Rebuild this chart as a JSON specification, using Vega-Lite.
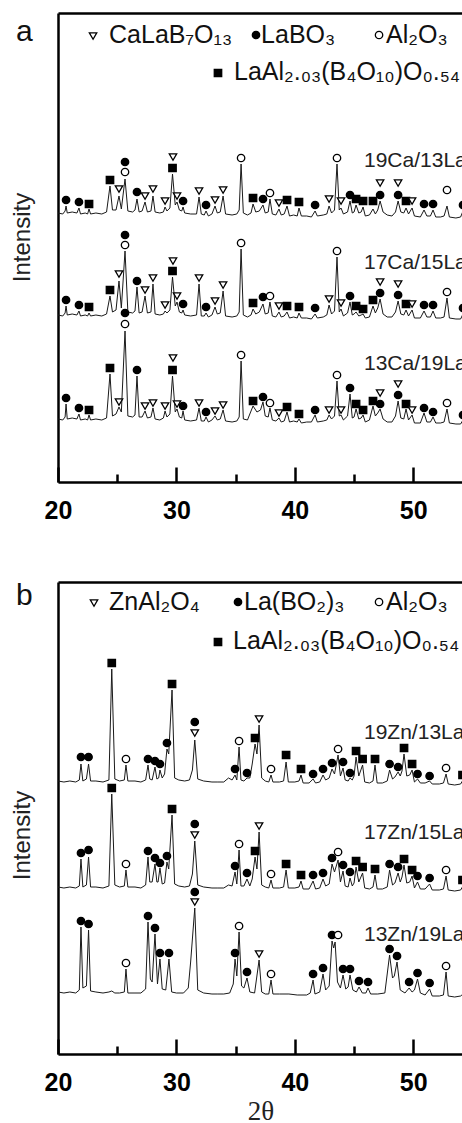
{
"$schema": "https://vega.github.io/schema/vega-lite/v6.json",
"padding": {"left": 10, "top": 13, "right": 0, "bottom": 0},
"background": "white",
"config": {"view": {"stroke": null}, "font": "Liberation Sans"},
"spacing": 57,
"resolve": {"scale": {"x": "independent", "y": "independent"}},
"datasets": {
"a_line": [
{"s":1,"x":20.0,"y":269},{"s":1,"x":20.4,"y":268},{"s":1,"x":20.6,"y":271},{"s":1,"x":20.68,"y":276},{"s":1,"x":20.78,"y":269},{"s":1,"x":21.2,"y":270},{"s":1,"x":21.6,"y":269},{"s":1,"x":21.77,"y":274},{"s":1,"x":21.9,"y":268},{"s":1,"x":22.3,"y":269},{"s":1,"x":22.5,"y":268},{"s":1,"x":22.62,"y":273},{"s":1,"x":22.75,"y":268},{"s":1,"x":23.2,"y":269},{"s":1,"x":23.7,"y":268},{"s":1,"x":24.1,"y":270},{"s":1,"x":24.39,"y":296},{"s":1,"x":24.6,"y":272},{"s":1,"x":24.9,"y":272},{"s":1,"x":25.15,"y":286},{"s":1,"x":25.35,"y":273},{"s":1,"x":25.66,"y":303},{"s":1,"x":25.9,"y":271},{"s":1,"x":26.3,"y":270},{"s":1,"x":26.5,"y":272},{"s":1,"x":26.67,"y":283},{"s":1,"x":26.85,"y":270},{"s":1,"x":27.1,"y":271},{"s":1,"x":27.35,"y":280},{"s":1,"x":27.55,"y":270},{"s":1,"x":27.85,"y":271},{"s":1,"x":28.02,"y":286},{"s":1,"x":28.2,"y":270},{"s":1,"x":28.6,"y":269},{"s":1,"x":28.9,"y":270},{"s":1,"x":29.04,"y":275},{"s":1,"x":29.2,"y":271},{"s":1,"x":29.45,"y":274},{"s":1,"x":29.67,"y":308},{"s":1,"x":29.9,"y":277},{"s":1,"x":30.05,"y":280},{"s":1,"x":30.25,"y":272},{"s":1,"x":30.45,"y":271},{"s":1,"x":30.56,"y":275},{"s":1,"x":30.7,"y":269},{"s":1,"x":31.2,"y":268},{"s":1,"x":31.7,"y":268},{"s":1,"x":31.91,"y":285},{"s":1,"x":32.1,"y":268},{"s":1,"x":32.35,"y":267},{"s":1,"x":32.5,"y":271},{"s":1,"x":32.7,"y":266},{"s":1,"x":33.0,"y":268},{"s":1,"x":33.26,"y":276},{"s":1,"x":33.45,"y":269},{"s":1,"x":33.7,"y":270},{"s":1,"x":33.94,"y":286},{"s":1,"x":34.15,"y":268},{"s":1,"x":34.7,"y":267},{"s":1,"x":35.1,"y":268},{"s":1,"x":35.3,"y":272},{"s":1,"x":35.46,"y":318},{"s":1,"x":35.65,"y":269},{"s":1,"x":36.0,"y":267},{"s":1,"x":36.3,"y":269},{"s":1,"x":36.47,"y":278},{"s":1,"x":36.7,"y":270},{"s":1,"x":37.0,"y":271},{"s":1,"x":37.31,"y":277},{"s":1,"x":37.5,"y":269},{"s":1,"x":37.75,"y":270},{"s":1,"x":37.9,"y":283},{"s":1,"x":38.1,"y":268},{"s":1,"x":38.4,"y":267},{"s":1,"x":38.66,"y":273},{"s":1,"x":38.85,"y":267},{"s":1,"x":39.1,"y":268},{"s":1,"x":39.34,"y":276},{"s":1,"x":39.55,"y":266},{"s":1,"x":39.9,"y":267},{"s":1,"x":40.2,"y":266},{"s":1,"x":40.35,"y":274},{"s":1,"x":40.55,"y":266},{"s":1,"x":41.0,"y":266},{"s":1,"x":41.4,"y":265},{"s":1,"x":41.71,"y":271},{"s":1,"x":41.9,"y":266},{"s":1,"x":42.4,"y":267},{"s":1,"x":42.7,"y":268},{"s":1,"x":42.89,"y":276},{"s":1,"x":43.1,"y":269},{"s":1,"x":43.35,"y":272},{"s":1,"x":43.56,"y":318},{"s":1,"x":43.75,"y":272},{"s":1,"x":43.9,"y":274},{"s":1,"x":44.1,"y":268},{"s":1,"x":44.45,"y":270},{"s":1,"x":44.66,"y":281},{"s":1,"x":44.85,"y":269},{"s":1,"x":45.0,"y":270},{"s":1,"x":45.17,"y":277},{"s":1,"x":45.4,"y":269},{"s":1,"x":45.6,"y":270},{"s":1,"x":45.76,"y":275},{"s":1,"x":45.95,"y":266},{"s":1,"x":46.3,"y":267},{"s":1,"x":46.6,"y":273},{"s":1,"x":46.8,"y":268},{"s":1,"x":47.0,"y":272},{"s":1,"x":47.2,"y":281},{"s":1,"x":47.45,"y":270},{"s":1,"x":47.8,"y":267},{"s":1,"x":48.2,"y":266},{"s":1,"x":48.5,"y":270},{"s":1,"x":48.72,"y":281},{"s":1,"x":48.95,"y":270},{"s":1,"x":49.2,"y":269},{"s":1,"x":49.39,"y":274},{"s":1,"x":49.6,"y":268},{"s":1,"x":49.9,"y":274},{"s":1,"x":50.1,"y":266},{"s":1,"x":50.6,"y":265},{"s":1,"x":50.91,"y":272},{"s":1,"x":51.15,"y":266},{"s":1,"x":51.45,"y":266},{"s":1,"x":51.67,"y":272},{"s":1,"x":51.9,"y":265},{"s":1,"x":52.3,"y":265},{"s":1,"x":52.6,"y":266},{"s":1,"x":52.85,"y":276},{"s":1,"x":53.05,"y":265},{"s":1,"x":53.6,"y":264},{"s":1,"x":54.0,"y":265},{"s":1,"x":54.2,"y":271},
{"s":2,"x":20.0,"y":167},{"s":2,"x":20.4,"y":166},{"s":2,"x":20.6,"y":169},{"s":2,"x":20.68,"y":176},{"s":2,"x":20.78,"y":167},{"s":2,"x":21.2,"y":168},{"s":2,"x":21.6,"y":167},{"s":2,"x":21.77,"y":171},{"s":2,"x":21.9,"y":166},{"s":2,"x":22.3,"y":167},{"s":2,"x":22.5,"y":166},{"s":2,"x":22.62,"y":169},{"s":2,"x":22.75,"y":166},{"s":2,"x":23.2,"y":167},{"s":2,"x":23.7,"y":166},{"s":2,"x":24.1,"y":168},{"s":2,"x":24.39,"y":186},{"s":2,"x":24.6,"y":170},{"s":2,"x":24.9,"y":172},{"s":2,"x":25.15,"y":201},{"s":2,"x":25.35,"y":174},{"s":2,"x":25.66,"y":231},{"s":2,"x":25.9,"y":170},{"s":2,"x":26.3,"y":169},{"s":2,"x":26.5,"y":171},{"s":2,"x":26.67,"y":195},{"s":2,"x":26.85,"y":169},{"s":2,"x":27.1,"y":170},{"s":2,"x":27.35,"y":186},{"s":2,"x":27.55,"y":169},{"s":2,"x":27.85,"y":170},{"s":2,"x":28.02,"y":198},{"s":2,"x":28.2,"y":168},{"s":2,"x":28.6,"y":167},{"s":2,"x":28.9,"y":168},{"s":2,"x":29.04,"y":171},{"s":2,"x":29.2,"y":169},{"s":2,"x":29.45,"y":172},{"s":2,"x":29.67,"y":205},{"s":2,"x":29.9,"y":176},{"s":2,"x":30.05,"y":180},{"s":2,"x":30.25,"y":170},{"s":2,"x":30.45,"y":169},{"s":2,"x":30.56,"y":172},{"s":2,"x":30.7,"y":167},{"s":2,"x":31.2,"y":166},{"s":2,"x":31.7,"y":167},{"s":2,"x":31.91,"y":198},{"s":2,"x":32.1,"y":166},{"s":2,"x":32.35,"y":166},{"s":2,"x":32.5,"y":169},{"s":2,"x":32.7,"y":165},{"s":2,"x":33.0,"y":167},{"s":2,"x":33.26,"y":175},{"s":2,"x":33.45,"y":168},{"s":2,"x":33.7,"y":169},{"s":2,"x":33.94,"y":191},{"s":2,"x":34.15,"y":166},{"s":2,"x":34.7,"y":165},{"s":2,"x":35.1,"y":166},{"s":2,"x":35.3,"y":170},{"s":2,"x":35.46,"y":233},{"s":2,"x":35.65,"y":167},{"s":2,"x":36.0,"y":165},{"s":2,"x":36.3,"y":167},{"s":2,"x":36.47,"y":173},{"s":2,"x":36.7,"y":168},{"s":2,"x":37.0,"y":170},{"s":2,"x":37.31,"y":178},{"s":2,"x":37.5,"y":168},{"s":2,"x":37.75,"y":169},{"s":2,"x":37.9,"y":180},{"s":2,"x":38.1,"y":166},{"s":2,"x":38.4,"y":165},{"s":2,"x":38.66,"y":170},{"s":2,"x":38.85,"y":165},{"s":2,"x":39.1,"y":166},{"s":2,"x":39.34,"y":170},{"s":2,"x":39.55,"y":164},{"s":2,"x":39.9,"y":165},{"s":2,"x":40.2,"y":164},{"s":2,"x":40.35,"y":169},{"s":2,"x":40.55,"y":164},{"s":2,"x":41.0,"y":164},{"s":2,"x":41.4,"y":163},{"s":2,"x":41.71,"y":168},{"s":2,"x":41.9,"y":164},{"s":2,"x":42.4,"y":165},{"s":2,"x":42.7,"y":167},{"s":2,"x":42.89,"y":177},{"s":2,"x":43.1,"y":168},{"s":2,"x":43.35,"y":171},{"s":2,"x":43.56,"y":225},{"s":2,"x":43.75,"y":170},{"s":2,"x":43.9,"y":173},{"s":2,"x":44.1,"y":166},{"s":2,"x":44.45,"y":169},{"s":2,"x":44.66,"y":180},{"s":2,"x":44.85,"y":167},{"s":2,"x":45.0,"y":168},{"s":2,"x":45.17,"y":170},{"s":2,"x":45.4,"y":166},{"s":2,"x":45.6,"y":167},{"s":2,"x":45.76,"y":168},{"s":2,"x":45.95,"y":164},{"s":2,"x":46.3,"y":165},{"s":2,"x":46.6,"y":176},{"s":2,"x":46.8,"y":169},{"s":2,"x":47.0,"y":174},{"s":2,"x":47.2,"y":183},{"s":2,"x":47.45,"y":168},{"s":2,"x":47.8,"y":165},{"s":2,"x":48.2,"y":165},{"s":2,"x":48.5,"y":170},{"s":2,"x":48.72,"y":181},{"s":2,"x":48.95,"y":168},{"s":2,"x":49.2,"y":167},{"s":2,"x":49.39,"y":172},{"s":2,"x":49.6,"y":166},{"s":2,"x":49.9,"y":172},{"s":2,"x":50.1,"y":164},{"s":2,"x":50.6,"y":164},{"s":2,"x":50.91,"y":171},{"s":2,"x":51.15,"y":165},{"s":2,"x":51.45,"y":165},{"s":2,"x":51.67,"y":171},{"s":2,"x":51.9,"y":164},{"s":2,"x":52.3,"y":164},{"s":2,"x":52.6,"y":165},{"s":2,"x":52.85,"y":184},{"s":2,"x":53.05,"y":164},{"s":2,"x":53.6,"y":163},{"s":2,"x":54.0,"y":163},{"s":2,"x":54.2,"y":168},
{"s":3,"x":20.0,"y":63},{"s":3,"x":20.4,"y":62},{"s":3,"x":20.6,"y":65},{"s":3,"x":20.68,"y":78},{"s":3,"x":20.78,"y":63},{"s":3,"x":21.2,"y":64},{"s":3,"x":21.6,"y":63},{"s":3,"x":21.77,"y":68},{"s":3,"x":21.9,"y":62},{"s":3,"x":22.3,"y":63},{"s":3,"x":22.5,"y":62},{"s":3,"x":22.62,"y":67},{"s":3,"x":22.75,"y":62},{"s":3,"x":23.2,"y":63},{"s":3,"x":23.7,"y":62},{"s":3,"x":24.1,"y":64},{"s":3,"x":24.39,"y":108},{"s":3,"x":24.6,"y":66},{"s":3,"x":24.9,"y":68},{"s":3,"x":25.15,"y":75},{"s":3,"x":25.35,"y":70},{"s":3,"x":25.66,"y":151},{"s":3,"x":25.9,"y":66},{"s":3,"x":26.3,"y":65},{"s":3,"x":26.5,"y":67},{"s":3,"x":26.67,"y":106},{"s":3,"x":26.85,"y":65},{"s":3,"x":27.1,"y":65},{"s":3,"x":27.35,"y":71},{"s":3,"x":27.55,"y":64},{"s":3,"x":27.85,"y":65},{"s":3,"x":28.02,"y":74},{"s":3,"x":28.2,"y":63},{"s":3,"x":28.6,"y":62},{"s":3,"x":28.9,"y":64},{"s":3,"x":29.04,"y":71},{"s":3,"x":29.2,"y":65},{"s":3,"x":29.45,"y":68},{"s":3,"x":29.67,"y":106},{"s":3,"x":29.9,"y":70},{"s":3,"x":30.05,"y":73},{"s":3,"x":30.25,"y":65},{"s":3,"x":30.45,"y":64},{"s":3,"x":30.56,"y":71},{"s":3,"x":30.7,"y":62},{"s":3,"x":31.2,"y":61},{"s":3,"x":31.7,"y":62},{"s":3,"x":31.91,"y":74},{"s":3,"x":32.1,"y":61},{"s":3,"x":32.35,"y":61},{"s":3,"x":32.5,"y":65},{"s":3,"x":32.7,"y":60},{"s":3,"x":33.0,"y":62},{"s":3,"x":33.26,"y":66},{"s":3,"x":33.45,"y":62},{"s":3,"x":33.7,"y":63},{"s":3,"x":33.94,"y":72},{"s":3,"x":34.15,"y":61},{"s":3,"x":34.7,"y":60},{"s":3,"x":35.1,"y":61},{"s":3,"x":35.3,"y":65},{"s":3,"x":35.46,"y":121},{"s":3,"x":35.65,"y":63},{"s":3,"x":36.0,"y":62},{"s":3,"x":36.2,"y":68},{"s":3,"x":36.47,"y":76},{"s":3,"x":36.8,"y":70},{"s":3,"x":37.1,"y":72},{"s":3,"x":37.31,"y":80},{"s":3,"x":37.5,"y":66},{"s":3,"x":37.75,"y":65},{"s":3,"x":37.9,"y":74},{"s":3,"x":38.1,"y":62},{"s":3,"x":38.4,"y":61},{"s":3,"x":38.66,"y":64},{"s":3,"x":38.85,"y":60},{"s":3,"x":39.1,"y":61},{"s":3,"x":39.34,"y":70},{"s":3,"x":39.55,"y":60},{"s":3,"x":39.9,"y":61},{"s":3,"x":40.2,"y":60},{"s":3,"x":40.35,"y":63},{"s":3,"x":40.55,"y":59},{"s":3,"x":41.0,"y":60},{"s":3,"x":41.4,"y":60},{"s":3,"x":41.71,"y":67},{"s":3,"x":41.9,"y":60},{"s":3,"x":42.4,"y":61},{"s":3,"x":42.7,"y":62},{"s":3,"x":42.89,"y":67},{"s":3,"x":43.1,"y":63},{"s":3,"x":43.35,"y":66},{"s":3,"x":43.56,"y":101},{"s":3,"x":43.75,"y":66},{"s":3,"x":43.9,"y":67},{"s":3,"x":44.1,"y":62},{"s":3,"x":44.45,"y":66},{"s":3,"x":44.66,"y":88},{"s":3,"x":44.85,"y":64},{"s":3,"x":45.0,"y":65},{"s":3,"x":45.17,"y":73},{"s":3,"x":45.4,"y":63},{"s":3,"x":45.6,"y":64},{"s":3,"x":45.76,"y":67},{"s":3,"x":45.95,"y":60},{"s":3,"x":46.3,"y":62},{"s":3,"x":46.6,"y":76},{"s":3,"x":46.8,"y":66},{"s":3,"x":47.0,"y":69},{"s":3,"x":47.2,"y":73},{"s":3,"x":47.45,"y":63},{"s":3,"x":47.8,"y":60},{"s":3,"x":48.2,"y":60},{"s":3,"x":48.5,"y":66},{"s":3,"x":48.72,"y":81},{"s":3,"x":48.95,"y":64},{"s":3,"x":49.2,"y":63},{"s":3,"x":49.39,"y":73},{"s":3,"x":49.6,"y":62},{"s":3,"x":49.9,"y":67},{"s":3,"x":50.1,"y":59},{"s":3,"x":50.6,"y":59},{"s":3,"x":50.91,"y":69},{"s":3,"x":51.15,"y":60},{"s":3,"x":51.45,"y":60},{"s":3,"x":51.67,"y":65},{"s":3,"x":51.9,"y":59},{"s":3,"x":52.3,"y":59},{"s":3,"x":52.6,"y":60},{"s":3,"x":52.85,"y":73},{"s":3,"x":53.05,"y":59},{"s":3,"x":53.6,"y":58},{"s":3,"x":54.0,"y":58},{"s":3,"x":54.2,"y":62}
],
"a_pts": [
{"x":20.68,"y":282,"p":"fc"},{"x":21.77,"y":280,"p":"fc"},{"x":22.62,"y":278,"p":"sq"},{"x":24.39,"y":302,"p":"sq"},{"x":25.15,"y":293,"p":"tri"},{"x":25.66,"y":310,"p":"oc"},{"x":25.66,"y":320,"p":"fc"},{"x":26.67,"y":290,"p":"fc"},{"x":27.35,"y":286,"p":"tri"},{"x":28.02,"y":293,"p":"tri"},{"x":29.04,"y":281,"p":"tri"},{"x":29.67,"y":314,"p":"sq"},{"x":29.71,"y":325,"p":"tri"},{"x":30.05,"y":286,"p":"tri"},{"x":30.56,"y":281,"p":"fc"},{"x":31.91,"y":291,"p":"tri"},{"x":32.5,"y":277,"p":"fc"},{"x":33.26,"y":282,"p":"tri"},{"x":33.94,"y":292,"p":"tri"},{"x":35.46,"y":324,"p":"oc"},{"x":36.47,"y":284,"p":"sq"},{"x":37.31,"y":283,"p":"fc"},{"x":37.9,"y":289,"p":"oc"},{"x":38.66,"y":279,"p":"tri"},{"x":39.34,"y":282,"p":"sq"},{"x":40.35,"y":280,"p":"sq"},{"x":41.71,"y":277,"p":"fc"},{"x":42.89,"y":283,"p":"tri"},{"x":43.56,"y":324,"p":"oc"},{"x":43.9,"y":281,"p":"tri"},{"x":44.66,"y":287,"p":"fc"},{"x":45.17,"y":283,"p":"sq"},{"x":45.76,"y":281,"p":"sq"},{"x":46.6,"y":281,"p":"sq"},{"x":47.2,"y":299,"p":"tri"},{"x":47.2,"y":287,"p":"fc"},{"x":48.72,"y":299,"p":"tri"},{"x":48.72,"y":287,"p":"fc"},{"x":49.39,"y":281,"p":"sq"},{"x":49.9,"y":281,"p":"tri"},{"x":50.91,"y":278,"p":"fc"},{"x":51.67,"y":278,"p":"fc"},{"x":52.85,"y":292,"p":"oc"},{"x":54.2,"y":277,"p":"fc"},
{"x":20.68,"y":182,"p":"fc"},{"x":21.77,"y":177,"p":"fc"},{"x":22.62,"y":175,"p":"sq"},{"x":24.39,"y":192,"p":"sq"},{"x":25.15,"y":208,"p":"tri"},{"x":25.66,"y":237,"p":"oc"},{"x":25.66,"y":247,"p":"fc"},{"x":26.67,"y":201,"p":"fc"},{"x":27.35,"y":192,"p":"tri"},{"x":28.02,"y":204,"p":"tri"},{"x":29.04,"y":177,"p":"tri"},{"x":29.67,"y":211,"p":"sq"},{"x":29.71,"y":221,"p":"tri"},{"x":30.05,"y":186,"p":"tri"},{"x":30.56,"y":178,"p":"fc"},{"x":31.91,"y":204,"p":"tri"},{"x":32.5,"y":175,"p":"fc"},{"x":33.26,"y":181,"p":"tri"},{"x":33.94,"y":197,"p":"tri"},{"x":35.46,"y":239,"p":"oc"},{"x":36.47,"y":179,"p":"sq"},{"x":37.31,"y":185,"p":"fc"},{"x":37.9,"y":186,"p":"oc"},{"x":38.66,"y":176,"p":"tri"},{"x":39.34,"y":176,"p":"sq"},{"x":40.35,"y":175,"p":"sq"},{"x":41.71,"y":174,"p":"fc"},{"x":42.89,"y":183,"p":"tri"},{"x":43.56,"y":231,"p":"oc"},{"x":43.9,"y":179,"p":"tri"},{"x":44.66,"y":186,"p":"fc"},{"x":45.17,"y":176,"p":"sq"},{"x":45.76,"y":173,"p":"sq"},{"x":46.6,"y":182,"p":"sq"},{"x":47.2,"y":200,"p":"tri"},{"x":47.2,"y":189,"p":"fc"},{"x":48.72,"y":198,"p":"tri"},{"x":48.72,"y":187,"p":"fc"},{"x":49.39,"y":178,"p":"sq"},{"x":49.9,"y":178,"p":"tri"},{"x":50.91,"y":177,"p":"fc"},{"x":51.67,"y":177,"p":"fc"},{"x":52.85,"y":190,"p":"oc"},{"x":54.2,"y":174,"p":"fc"},
{"x":20.68,"y":84,"p":"fc"},{"x":21.77,"y":74,"p":"fc"},{"x":22.62,"y":72,"p":"sq"},{"x":24.39,"y":114,"p":"sq"},{"x":25.15,"y":80,"p":"tri"},{"x":25.66,"y":158,"p":"oc"},{"x":25.66,"y":169,"p":"fc"},{"x":26.67,"y":112,"p":"fc"},{"x":27.35,"y":76,"p":"tri"},{"x":28.02,"y":79,"p":"tri"},{"x":29.04,"y":76,"p":"tri"},{"x":29.67,"y":112,"p":"sq"},{"x":29.71,"y":124,"p":"tri"},{"x":30.05,"y":78,"p":"tri"},{"x":30.56,"y":76,"p":"fc"},{"x":31.91,"y":79,"p":"tri"},{"x":32.5,"y":70,"p":"fc"},{"x":33.26,"y":71,"p":"tri"},{"x":33.94,"y":77,"p":"tri"},{"x":35.46,"y":127,"p":"oc"},{"x":36.47,"y":81,"p":"sq"},{"x":37.31,"y":85,"p":"fc"},{"x":37.9,"y":79,"p":"oc"},{"x":38.66,"y":69,"p":"tri"},{"x":39.34,"y":75,"p":"sq"},{"x":40.35,"y":68,"p":"sq"},{"x":41.71,"y":72,"p":"fc"},{"x":42.89,"y":72,"p":"tri"},{"x":43.56,"y":107,"p":"oc"},{"x":43.9,"y":72,"p":"tri"},{"x":44.66,"y":94,"p":"fc"},{"x":45.17,"y":78,"p":"sq"},{"x":45.76,"y":72,"p":"sq"},{"x":46.6,"y":81,"p":"sq"},{"x":47.2,"y":89,"p":"tri"},{"x":47.2,"y":78,"p":"fc"},{"x":48.72,"y":98,"p":"tri"},{"x":48.72,"y":87,"p":"fc"},{"x":49.39,"y":78,"p":"sq"},{"x":49.9,"y":72,"p":"tri"},{"x":50.91,"y":74,"p":"fc"},{"x":51.67,"y":70,"p":"fc"},{"x":52.85,"y":79,"p":"oc"},{"x":54.2,"y":67,"p":"fc"},
{"x":22.96,"y":446,"p":"tri"},{"x":36.72,"y":447,"p":"fc"},{"x":47.11,"y":447,"p":"oc"},{"x":33.51,"y":409,"p":"sq"}
],
"a_leg": [
{"x":24.31,"y":439,"t":"CaLaB₇O₁₃"},{"x":37.15,"y":439,"t":"LaBO₃"},{"x":47.7,"y":439,"t":"Al₂O₃"},{"x":34.86,"y":402,"t":"LaAl₂.₀₃(B₄O₁₀)O₀.₅₄"}
],
"a_lab": [
{"x":45.84,"y":315,"t":"19Ca/13La"},{"x":45.84,"y":213,"t":"17Ca/15La"},{"x":45.84,"y":112,"t":"13Ca/19La"}
],
"a_tag": [{"x":16.45,"y":441,"t":"a"}],
"b_line": [
{"s":1,"x":20.0,"y":273},{"s":1,"x":20.5,"y":272},{"s":1,"x":21.0,"y":273},{"s":1,"x":21.5,"y":272},{"s":1,"x":21.8,"y":274},{"s":1,"x":21.94,"y":290},{"s":1,"x":22.1,"y":273},{"s":1,"x":22.4,"y":275},{"s":1,"x":22.58,"y":290},{"s":1,"x":22.75,"y":273},{"s":1,"x":23.2,"y":273},{"s":1,"x":23.8,"y":272},{"s":1,"x":24.3,"y":274},{"s":1,"x":24.54,"y":385},{"s":1,"x":24.8,"y":275},{"s":1,"x":25.2,"y":273},{"s":1,"x":25.6,"y":274},{"s":1,"x":25.74,"y":289},{"s":1,"x":25.9,"y":273},{"s":1,"x":26.5,"y":273},{"s":1,"x":27.0,"y":272},{"s":1,"x":27.4,"y":274},{"s":1,"x":27.6,"y":289},{"s":1,"x":27.75,"y":275},{"s":1,"x":27.95,"y":274},{"s":1,"x":28.19,"y":287},{"s":1,"x":28.35,"y":275},{"s":1,"x":28.5,"y":276},{"s":1,"x":28.61,"y":284},{"s":1,"x":28.8,"y":276},{"s":1,"x":29.0,"y":280},{"s":1,"x":29.2,"y":305},{"s":1,"x":29.35,"y":300},{"s":1,"x":29.63,"y":364},{"s":1,"x":29.85,"y":276},{"s":1,"x":30.2,"y":274},{"s":1,"x":30.7,"y":273},{"s":1,"x":31.1,"y":274},{"s":1,"x":31.35,"y":284},{"s":1,"x":31.55,"y":314},{"s":1,"x":31.8,"y":275},{"s":1,"x":32.3,"y":273},{"s":1,"x":33.0,"y":272},{"s":1,"x":33.5,"y":272},{"s":1,"x":34.0,"y":272},{"s":1,"x":34.4,"y":276},{"s":1,"x":34.7,"y":274},{"s":1,"x":34.95,"y":279},{"s":1,"x":35.1,"y":274},{"s":1,"x":35.29,"y":307},{"s":1,"x":35.45,"y":274},{"s":1,"x":35.7,"y":273},{"s":1,"x":35.96,"y":276},{"s":1,"x":36.2,"y":276},{"s":1,"x":36.4,"y":290},{"s":1,"x":36.64,"y":310},{"s":1,"x":36.8,"y":300},{"s":1,"x":36.98,"y":329},{"s":1,"x":37.2,"y":276},{"s":1,"x":37.5,"y":273},{"s":1,"x":37.8,"y":272},{"s":1,"x":37.99,"y":279},{"s":1,"x":38.15,"y":272},{"s":1,"x":38.7,"y":272},{"s":1,"x":39.05,"y":273},{"s":1,"x":39.26,"y":292},{"s":1,"x":39.45,"y":272},{"s":1,"x":40.0,"y":272},{"s":1,"x":40.35,"y":273},{"s":1,"x":40.52,"y":279},{"s":1,"x":40.7,"y":271},{"s":1,"x":41.2,"y":271},{"s":1,"x":41.54,"y":275},{"s":1,"x":41.75,"y":271},{"s":1,"x":42.1,"y":272},{"s":1,"x":42.38,"y":279},{"s":1,"x":42.6,"y":274},{"s":1,"x":42.9,"y":276},{"s":1,"x":43.14,"y":285},{"s":1,"x":43.35,"y":280},{"s":1,"x":43.65,"y":299},{"s":1,"x":43.85,"y":278},{"s":1,"x":44.07,"y":286},{"s":1,"x":44.25,"y":274},{"s":1,"x":44.5,"y":273},{"s":1,"x":44.66,"y":276},{"s":1,"x":44.85,"y":274},{"s":1,"x":45.0,"y":278},{"s":1,"x":45.17,"y":297},{"s":1,"x":45.4,"y":278},{"s":1,"x":45.72,"y":289},{"s":1,"x":45.9,"y":272},{"s":1,"x":46.3,"y":271},{"s":1,"x":46.6,"y":273},{"s":1,"x":46.77,"y":289},{"s":1,"x":46.95,"y":271},{"s":1,"x":47.4,"y":271},{"s":1,"x":47.8,"y":273},{"s":1,"x":48.0,"y":284},{"s":1,"x":48.25,"y":275},{"s":1,"x":48.45,"y":277},{"s":1,"x":48.72,"y":282},{"s":1,"x":48.9,"y":278},{"s":1,"x":49.05,"y":283},{"s":1,"x":49.22,"y":300},{"s":1,"x":49.45,"y":278},{"s":1,"x":49.7,"y":279},{"s":1,"x":49.9,"y":284},{"s":1,"x":50.1,"y":272},{"s":1,"x":50.36,"y":275},{"s":1,"x":50.6,"y":271},{"s":1,"x":51.0,"y":271},{"s":1,"x":51.38,"y":273},{"s":1,"x":51.6,"y":270},{"s":1,"x":52.2,"y":270},{"s":1,"x":52.55,"y":271},{"s":1,"x":52.77,"y":280},{"s":1,"x":52.95,"y":270},{"s":1,"x":53.5,"y":269},{"s":1,"x":54.0,"y":270},{"s":1,"x":54.2,"y":274},
{"s":2,"x":20.0,"y":167},{"s":2,"x":20.5,"y":166},{"s":2,"x":21.0,"y":167},{"s":2,"x":21.5,"y":166},{"s":2,"x":21.8,"y":168},{"s":2,"x":21.94,"y":195},{"s":2,"x":22.1,"y":167},{"s":2,"x":22.4,"y":169},{"s":2,"x":22.58,"y":197},{"s":2,"x":22.75,"y":167},{"s":2,"x":23.2,"y":167},{"s":2,"x":23.8,"y":166},{"s":2,"x":24.3,"y":168},{"s":2,"x":24.54,"y":260},{"s":2,"x":24.8,"y":169},{"s":2,"x":25.2,"y":167},{"s":2,"x":25.6,"y":168},{"s":2,"x":25.74,"y":184},{"s":2,"x":25.9,"y":167},{"s":2,"x":26.5,"y":167},{"s":2,"x":27.0,"y":166},{"s":2,"x":27.4,"y":169},{"s":2,"x":27.6,"y":197},{"s":2,"x":27.75,"y":172},{"s":2,"x":27.95,"y":172},{"s":2,"x":28.19,"y":190},{"s":2,"x":28.35,"y":172},{"s":2,"x":28.45,"y":172},{"s":2,"x":28.61,"y":186},{"s":2,"x":28.8,"y":170},{"s":2,"x":29.0,"y":171},{"s":2,"x":29.2,"y":192},{"s":2,"x":29.35,"y":185},{"s":2,"x":29.63,"y":239},{"s":2,"x":29.85,"y":170},{"s":2,"x":30.2,"y":168},{"s":2,"x":30.7,"y":167},{"s":2,"x":31.1,"y":168},{"s":2,"x":31.35,"y":180},{"s":2,"x":31.55,"y":213},{"s":2,"x":31.8,"y":169},{"s":2,"x":32.3,"y":167},{"s":2,"x":33.0,"y":166},{"s":2,"x":33.5,"y":166},{"s":2,"x":34.0,"y":166},{"s":2,"x":34.4,"y":169},{"s":2,"x":34.7,"y":168},{"s":2,"x":34.95,"y":182},{"s":2,"x":35.1,"y":170},{"s":2,"x":35.29,"y":204},{"s":2,"x":35.45,"y":168},{"s":2,"x":35.7,"y":168},{"s":2,"x":35.96,"y":175},{"s":2,"x":36.2,"y":168},{"s":2,"x":36.4,"y":175},{"s":2,"x":36.64,"y":197},{"s":2,"x":36.8,"y":185},{"s":2,"x":36.98,"y":222},{"s":2,"x":37.2,"y":169},{"s":2,"x":37.5,"y":167},{"s":2,"x":37.8,"y":166},{"s":2,"x":37.99,"y":174},{"s":2,"x":38.15,"y":166},{"s":2,"x":38.7,"y":166},{"s":2,"x":39.05,"y":167},{"s":2,"x":39.26,"y":184},{"s":2,"x":39.45,"y":166},{"s":2,"x":40.0,"y":166},{"s":2,"x":40.35,"y":167},{"s":2,"x":40.52,"y":173},{"s":2,"x":40.7,"y":165},{"s":2,"x":41.2,"y":165},{"s":2,"x":41.54,"y":173},{"s":2,"x":41.75,"y":165},{"s":2,"x":42.1,"y":166},{"s":2,"x":42.38,"y":175},{"s":2,"x":42.6,"y":168},{"s":2,"x":42.9,"y":170},{"s":2,"x":43.14,"y":190},{"s":2,"x":43.35,"y":182},{"s":2,"x":43.65,"y":194},{"s":2,"x":43.85,"y":172},{"s":2,"x":44.07,"y":183},{"s":2,"x":44.25,"y":168},{"s":2,"x":44.5,"y":167},{"s":2,"x":44.66,"y":176},{"s":2,"x":44.85,"y":168},{"s":2,"x":45.0,"y":171},{"s":2,"x":45.17,"y":187},{"s":2,"x":45.4,"y":172},{"s":2,"x":45.72,"y":181},{"s":2,"x":45.9,"y":166},{"s":2,"x":46.3,"y":165},{"s":2,"x":46.6,"y":167},{"s":2,"x":46.77,"y":179},{"s":2,"x":46.95,"y":165},{"s":2,"x":47.4,"y":165},{"s":2,"x":47.8,"y":167},{"s":2,"x":48.0,"y":184},{"s":2,"x":48.25,"y":169},{"s":2,"x":48.45,"y":171},{"s":2,"x":48.72,"y":181},{"s":2,"x":48.9,"y":172},{"s":2,"x":49.05,"y":177},{"s":2,"x":49.22,"y":189},{"s":2,"x":49.45,"y":171},{"s":2,"x":49.7,"y":172},{"s":2,"x":49.9,"y":178},{"s":2,"x":50.1,"y":166},{"s":2,"x":50.36,"y":172},{"s":2,"x":50.6,"y":165},{"s":2,"x":51.0,"y":165},{"s":2,"x":51.38,"y":170},{"s":2,"x":51.6,"y":164},{"s":2,"x":52.2,"y":164},{"s":2,"x":52.55,"y":165},{"s":2,"x":52.77,"y":178},{"s":2,"x":52.95,"y":164},{"s":2,"x":53.5,"y":163},{"s":2,"x":54.0,"y":164},{"s":2,"x":54.2,"y":168},
{"s":3,"x":20.0,"y":62},{"s":3,"x":20.5,"y":61},{"s":3,"x":21.0,"y":62},{"s":3,"x":21.5,"y":61},{"s":3,"x":21.8,"y":64},{"s":3,"x":21.94,"y":127},{"s":3,"x":22.1,"y":66},{"s":3,"x":22.4,"y":68},{"s":3,"x":22.58,"y":124},{"s":3,"x":22.75,"y":63},{"s":3,"x":23.2,"y":62},{"s":3,"x":23.8,"y":61},{"s":3,"x":24.3,"y":62},{"s":3,"x":24.54,"y":63},{"s":3,"x":24.8,"y":61},{"s":3,"x":25.2,"y":61},{"s":3,"x":25.6,"y":62},{"s":3,"x":25.74,"y":85},{"s":3,"x":25.9,"y":61},{"s":3,"x":26.5,"y":61},{"s":3,"x":27.0,"y":61},{"s":3,"x":27.4,"y":65},{"s":3,"x":27.6,"y":132},{"s":3,"x":27.8,"y":75},{"s":3,"x":27.95,"y":72},{"s":3,"x":28.19,"y":120},{"s":3,"x":28.4,"y":70},{"s":3,"x":28.61,"y":95},{"s":3,"x":28.8,"y":65},{"s":3,"x":29.1,"y":64},{"s":3,"x":29.37,"y":95},{"s":3,"x":29.6,"y":62},{"s":3,"x":30.0,"y":61},{"s":3,"x":30.6,"y":61},{"s":3,"x":31.0,"y":66},{"s":3,"x":31.2,"y":92},{"s":3,"x":31.55,"y":146},{"s":3,"x":31.8,"y":64},{"s":3,"x":32.3,"y":61},{"s":3,"x":33.0,"y":60},{"s":3,"x":33.5,"y":60},{"s":3,"x":34.0,"y":60},{"s":3,"x":34.5,"y":61},{"s":3,"x":34.8,"y":70},{"s":3,"x":34.95,"y":95},{"s":3,"x":35.1,"y":78},{"s":3,"x":35.29,"y":122},{"s":3,"x":35.5,"y":68},{"s":3,"x":35.7,"y":66},{"s":3,"x":35.96,"y":76},{"s":3,"x":36.2,"y":62},{"s":3,"x":36.6,"y":61},{"s":3,"x":36.98,"y":94},{"s":3,"x":37.2,"y":62},{"s":3,"x":37.5,"y":60},{"s":3,"x":37.8,"y":60},{"s":3,"x":37.99,"y":74},{"s":3,"x":38.15,"y":60},{"s":3,"x":38.7,"y":60},{"s":3,"x":39.5,"y":60},{"s":3,"x":40.2,"y":59},{"s":3,"x":41.0,"y":59},{"s":3,"x":41.3,"y":61},{"s":3,"x":41.54,"y":74},{"s":3,"x":41.7,"y":60},{"s":3,"x":42.1,"y":62},{"s":3,"x":42.38,"y":80},{"s":3,"x":42.6,"y":64},{"s":3,"x":42.9,"y":68},{"s":3,"x":43.14,"y":113},{"s":3,"x":43.28,"y":106},{"s":3,"x":43.4,"y":112},{"s":3,"x":43.6,"y":72},{"s":3,"x":43.85,"y":66},{"s":3,"x":44.07,"y":79},{"s":3,"x":44.3,"y":65},{"s":3,"x":44.5,"y":67},{"s":3,"x":44.66,"y":79},{"s":3,"x":44.9,"y":64},{"s":3,"x":45.2,"y":62},{"s":3,"x":45.42,"y":67},{"s":3,"x":45.7,"y":61},{"s":3,"x":46.0,"y":61},{"s":3,"x":46.18,"y":66},{"s":3,"x":46.4,"y":60},{"s":3,"x":47.0,"y":60},{"s":3,"x":47.6,"y":61},{"s":3,"x":48.0,"y":99},{"s":3,"x":48.25,"y":76},{"s":3,"x":48.4,"y":78},{"s":3,"x":48.63,"y":92},{"s":3,"x":48.9,"y":64},{"s":3,"x":49.3,"y":61},{"s":3,"x":49.65,"y":66},{"s":3,"x":49.9,"y":62},{"s":3,"x":50.1,"y":64},{"s":3,"x":50.36,"y":75},{"s":3,"x":50.6,"y":61},{"s":3,"x":51.0,"y":59},{"s":3,"x":51.38,"y":65},{"s":3,"x":51.6,"y":58},{"s":3,"x":52.2,"y":58},{"s":3,"x":52.55,"y":59},{"s":3,"x":52.77,"y":82},{"s":3,"x":52.95,"y":58},{"s":3,"x":53.5,"y":57},{"s":3,"x":54.0,"y":58},{"s":3,"x":54.2,"y":60}
],
"b_pts": [
{"x":21.94,"y":297,"p":"fc"},{"x":22.58,"y":297,"p":"fc"},{"x":24.54,"y":391,"p":"sq"},{"x":25.74,"y":295,"p":"oc"},{"x":27.6,"y":295,"p":"fc"},{"x":28.19,"y":293,"p":"fc"},{"x":28.61,"y":290,"p":"fc"},{"x":29.2,"y":311,"p":"fc"},{"x":29.63,"y":370,"p":"sq"},{"x":31.55,"y":321,"p":"tri"},{"x":31.55,"y":332,"p":"fc"},{"x":34.95,"y":285,"p":"fc"},{"x":35.29,"y":313,"p":"oc"},{"x":35.96,"y":281,"p":"fc"},{"x":36.64,"y":316,"p":"sq"},{"x":36.98,"y":335,"p":"tri"},{"x":37.99,"y":285,"p":"oc"},{"x":39.26,"y":299,"p":"sq"},{"x":40.52,"y":285,"p":"sq"},{"x":41.54,"y":280,"p":"fc"},{"x":42.38,"y":285,"p":"fc"},{"x":43.14,"y":291,"p":"fc"},{"x":43.65,"y":305,"p":"oc"},{"x":44.07,"y":292,"p":"fc"},{"x":44.66,"y":281,"p":"fc"},{"x":45.17,"y":303,"p":"sq"},{"x":45.72,"y":295,"p":"sq"},{"x":46.77,"y":295,"p":"sq"},{"x":48.0,"y":290,"p":"fc"},{"x":48.72,"y":287,"p":"fc"},{"x":49.22,"y":306,"p":"sq"},{"x":49.9,"y":290,"p":"sq"},{"x":50.36,"y":280,"p":"fc"},{"x":51.38,"y":278,"p":"fc"},{"x":52.77,"y":286,"p":"oc"},{"x":54.16,"y":279,"p":"sq"},
{"x":21.94,"y":201,"p":"fc"},{"x":22.58,"y":204,"p":"fc"},{"x":24.54,"y":266,"p":"sq"},{"x":25.74,"y":190,"p":"oc"},{"x":27.6,"y":203,"p":"fc"},{"x":28.19,"y":196,"p":"fc"},{"x":28.61,"y":191,"p":"fc"},{"x":29.2,"y":198,"p":"fc"},{"x":29.63,"y":245,"p":"sq"},{"x":31.55,"y":219,"p":"tri"},{"x":31.55,"y":230,"p":"fc"},{"x":34.95,"y":188,"p":"fc"},{"x":35.29,"y":210,"p":"oc"},{"x":35.96,"y":181,"p":"fc"},{"x":36.64,"y":203,"p":"sq"},{"x":36.98,"y":228,"p":"tri"},{"x":37.99,"y":180,"p":"oc"},{"x":39.26,"y":190,"p":"sq"},{"x":40.52,"y":179,"p":"sq"},{"x":41.54,"y":179,"p":"fc"},{"x":42.38,"y":181,"p":"fc"},{"x":43.14,"y":196,"p":"fc"},{"x":43.65,"y":202,"p":"oc"},{"x":44.07,"y":189,"p":"fc"},{"x":44.66,"y":182,"p":"fc"},{"x":45.17,"y":193,"p":"sq"},{"x":45.72,"y":187,"p":"sq"},{"x":46.77,"y":185,"p":"sq"},{"x":48.0,"y":190,"p":"fc"},{"x":48.72,"y":187,"p":"fc"},{"x":49.22,"y":195,"p":"sq"},{"x":49.9,"y":184,"p":"sq"},{"x":50.36,"y":178,"p":"fc"},{"x":51.38,"y":176,"p":"fc"},{"x":52.77,"y":184,"p":"oc"},{"x":54.16,"y":174,"p":"sq"},
{"x":21.94,"y":133,"p":"fc"},{"x":22.58,"y":130,"p":"fc"},{"x":25.74,"y":91,"p":"oc"},{"x":27.6,"y":138,"p":"fc"},{"x":28.19,"y":126,"p":"fc"},{"x":28.61,"y":101,"p":"fc"},{"x":29.37,"y":101,"p":"fc"},{"x":31.55,"y":152,"p":"tri"},{"x":31.55,"y":162,"p":"fc"},{"x":34.95,"y":101,"p":"fc"},{"x":35.29,"y":128,"p":"oc"},{"x":35.96,"y":82,"p":"fc"},{"x":36.98,"y":100,"p":"tri"},{"x":37.99,"y":80,"p":"oc"},{"x":41.54,"y":80,"p":"fc"},{"x":42.38,"y":86,"p":"fc"},{"x":43.14,"y":119,"p":"fc"},{"x":43.65,"y":119,"p":"oc"},{"x":44.07,"y":85,"p":"fc"},{"x":44.66,"y":85,"p":"fc"},{"x":45.42,"y":73,"p":"fc"},{"x":46.18,"y":72,"p":"fc"},{"x":48.0,"y":105,"p":"fc"},{"x":48.63,"y":98,"p":"fc"},{"x":49.65,"y":72,"p":"fc"},{"x":50.36,"y":81,"p":"fc"},{"x":51.38,"y":71,"p":"fc"},{"x":52.77,"y":88,"p":"oc"},
{"x":23.04,"y":451,"p":"tri"},{"x":35.2,"y":452,"p":"fc"},{"x":47.11,"y":452,"p":"oc"},{"x":33.51,"y":412,"p":"sq"}
],
"b_leg": [
{"x":24.31,"y":444,"t":"ZnAl₂O₄"},{"x":35.71,"y":444,"t":"La(BO₂)₃"},{"x":47.7,"y":444,"t":"Al₂O₃"},{"x":34.78,"y":405,"t":"LaAl₂.₀₃(B₄O₁₀)O₀.₅₄"}
],
"b_lab": [
{"x":45.84,"y":315,"t":"19Zn/13La"},{"x":45.84,"y":215,"t":"17Zn/15La"},{"x":45.84,"y":113,"t":"13Zn/19La"}
],
"b_tag": [{"x":16.45,"y":449,"t":"b"}]
},
"vconcat": [
{
"width": 405, "height": 469,
"encoding": {"y": {"field": "y", "type": "quantitative", "scale": {"domain": [0, 469], "nice": false, "zero": false}, "axis": {"orient": "left", "labels": false, "ticks": false, "grid": false, "domainWidth": 2.5, "domainColor": "black", "title": "Intensity", "titleFontSize": 24, "titleFontWeight": "normal", "titleFont": "Liberation Sans", "titleX": -28.6, "titleY": 224, "titleBaseline": "alphabetic", "titleColor": "#222"}}},
"layer": [
{"data": {"name": "a_line"}, "mark": {"type": "line", "color": "#1a1a1a", "strokeWidth": 1, "clip": true},
 "encoding": {"x": {"field": "x", "type": "quantitative", "scale": {"domain": [20, 54.2], "nice": false, "zero": false},
   "axis": {"orient": "bottom", "values": [20,30,40,50], "format": "d", "tickSize": -15, "tickWidth": 2.5, "tickColor": "black", "domainWidth": 2.5, "domainColor": "black", "labelFontSize": 25, "labelFontWeight": "bold", "labelFont": "Liberation Sans", "labelColor": "black", "labelPadding": 31, "labelFlush": false, "labelOverlap": false, "grid": false, "title": null}},
  "detail": {"field": "s", "type": "nominal"}}},
{"data": {"name": "a_pts"}, "mark": {"type": "point", "size": 55, "strokeWidth": 1.3, "stroke": "black", "opacity": 1, "clip": true},
 "encoding": {"x": {"field": "x", "type": "quantitative", "axis": {"orient": "bottom", "values": [25,35,45], "tickSize": -8, "tickWidth": 2.5, "tickColor": "black", "labels": false, "domain": false, "grid": false, "title": null}},
  "shape": {"field": "p", "type": "nominal", "scale": {"domain": ["tri","fc","oc","sq"], "range": ["triangle-down","circle","circle","square"]}, "legend": null},
  "fill": {"field": "p", "type": "nominal", "scale": {"domain": ["tri","fc","oc","sq"], "range": ["white","black","white","black"]}, "legend": null}}},
{"data": {"name": "a_leg"}, "mark": {"type": "text", "align": "left", "baseline": "alphabetic", "fontSize": 25, "font": "Liberation Sans, DejaVu Sans", "color": "#111", "clip": true},
 "encoding": {"x": {"field": "x", "type": "quantitative", "axis": null}, "text": {"field": "t"}}},
{"data": {"name": "a_tag"}, "mark": {"type": "text", "align": "left", "baseline": "alphabetic", "fontSize": 30, "font": "Liberation Sans", "color": "#111"},
 "encoding": {"x": {"field": "x", "type": "quantitative", "axis": null}, "text": {"field": "t"}}},
{"data": {"name": "a_lab"}, "mark": {"type": "text", "align": "left", "baseline": "alphabetic", "fontSize": 21, "font": "Liberation Sans", "color": "#222", "clip": true},
 "encoding": {"x": {"field": "x", "type": "quantitative", "axis": {"orient": "top", "labels": false, "ticks": false, "grid": false, "domainWidth": 2.5, "domainColor": "black", "title": null}}, "text": {"field": "t"}}}
],
"resolve": {"axis": {"x": "independent"}}
},
{
"width": 405, "height": 472,
"encoding": {"y": {"field": "y", "type": "quantitative", "scale": {"domain": [0, 472], "nice": false, "zero": false}, "axis": {"orient": "left", "labels": false, "ticks": false, "grid": false, "domainWidth": 2.5, "domainColor": "black", "title": "Intensity", "titleFontSize": 24, "titleFontWeight": "normal", "titleFont": "Liberation Sans", "titleX": -28.6, "titleY": 253, "titleBaseline": "alphabetic", "titleColor": "#222"}}},
"layer": [
{"data": {"name": "b_line"}, "mark": {"type": "line", "color": "#1a1a1a", "strokeWidth": 1, "clip": true},
 "encoding": {"x": {"field": "x", "type": "quantitative", "scale": {"domain": [20, 54.2], "nice": false, "zero": false},
   "axis": {"orient": "bottom", "values": [20,30,40,50], "format": "d", "tickSize": -15, "tickWidth": 2.5, "tickColor": "black", "domainWidth": 2.5, "domainColor": "black", "labelFontSize": 25, "labelFontWeight": "bold", "labelFont": "Liberation Sans", "labelColor": "black", "labelPadding": 31, "labelFlush": false, "labelOverlap": false, "grid": false, "title": "2θ", "titleFont": "Liberation Serif", "titleFontSize": 27, "titleFontWeight": "normal", "titleColor": "#222", "titlePadding": 3}},
  "detail": {"field": "s", "type": "nominal"}}},
{"data": {"name": "b_pts"}, "mark": {"type": "point", "size": 55, "strokeWidth": 1.3, "stroke": "black", "opacity": 1, "clip": true},
 "encoding": {"x": {"field": "x", "type": "quantitative", "axis": {"orient": "bottom", "values": [25,35,45], "tickSize": -8, "tickWidth": 2.5, "tickColor": "black", "labels": false, "domain": false, "grid": false, "title": null}},
  "shape": {"field": "p", "type": "nominal", "scale": {"domain": ["tri","fc","oc","sq"], "range": ["triangle-down","circle","circle","square"]}, "legend": null},
  "fill": {"field": "p", "type": "nominal", "scale": {"domain": ["tri","fc","oc","sq"], "range": ["white","black","white","black"]}, "legend": null}}},
{"data": {"name": "b_leg"}, "mark": {"type": "text", "align": "left", "baseline": "alphabetic", "fontSize": 25, "font": "Liberation Sans, DejaVu Sans", "color": "#111", "clip": true},
 "encoding": {"x": {"field": "x", "type": "quantitative", "axis": null}, "text": {"field": "t"}}},
{"data": {"name": "b_tag"}, "mark": {"type": "text", "align": "left", "baseline": "alphabetic", "fontSize": 30, "font": "Liberation Sans", "color": "#111"},
 "encoding": {"x": {"field": "x", "type": "quantitative", "axis": null}, "text": {"field": "t"}}},
{"data": {"name": "b_lab"}, "mark": {"type": "text", "align": "left", "baseline": "alphabetic", "fontSize": 21, "font": "Liberation Sans", "color": "#222", "clip": true},
 "encoding": {"x": {"field": "x", "type": "quantitative", "axis": {"orient": "top", "labels": false, "ticks": false, "grid": false, "domainWidth": 2.5, "domainColor": "black", "title": null}}, "text": {"field": "t"}}}
],
"resolve": {"axis": {"x": "independent"}}
}
]
}
